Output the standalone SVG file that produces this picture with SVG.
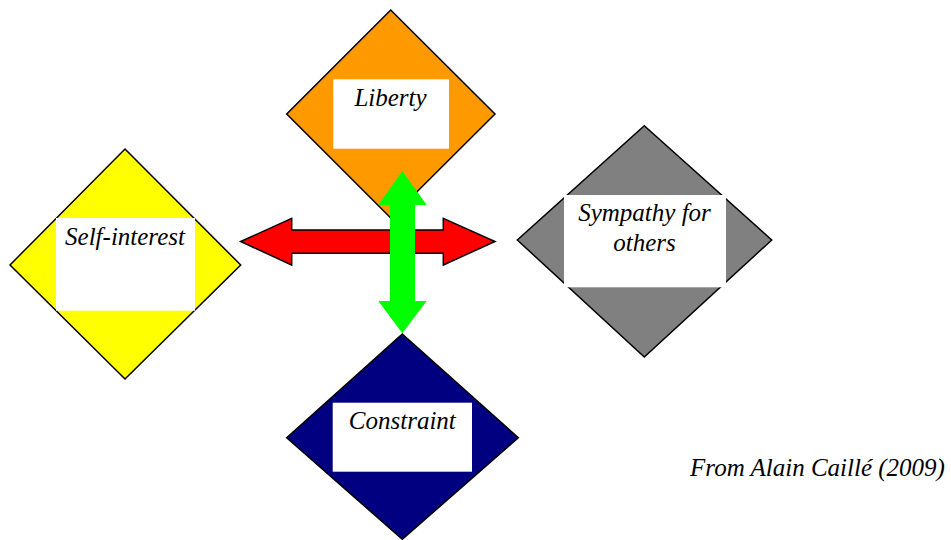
<svg xmlns="http://www.w3.org/2000/svg" width="951" height="540" viewBox="0 0 951 540">
<style>
.d{stroke:#000;stroke-width:1.5}
.box{fill:#fff}
.t{font-family:'Liberation Serif','DejaVu Serif',Times,serif;font-style:italic;font-size:25px;fill:#000;text-anchor:middle}
</style>
<rect width="951" height="540" fill="#fff"/>
<g id="liberty">
<polygon class="d" fill="#FF9900" points="390.7,10 495,114 390.7,218 286.7,114"/>
<rect class="box" x="333.3" y="79.3" width="115.7" height="69.4"/>
<text class="t" x="390.5" y="106">Liberty</text>
</g>
<g id="self-interest">
<polygon class="d" fill="#FFFF00" points="125,149 240.7,265 125,379 10,265"/>
<rect class="box" x="56" y="218" width="139" height="92.7"/>
<text class="t" x="125" y="245">Self-interest</text>
</g>
<g id="sympathy">
<polygon class="d" fill="#808080" points="644.3,125.7 771.7,240 644.3,357 517.3,240"/>
<rect class="box" x="564" y="195" width="162" height="92.3"/>
<text class="t" x="644.5" y="220.7">Sympathy for</text>
<text class="t" x="644.5" y="251">others</text>
</g>
<g id="constraint">
<polygon class="d" fill="#000080" points="402.3,334 518.3,437.7 402.3,539.3 286.7,437.7"/>
<rect class="box" x="332.7" y="402.7" width="139.3" height="69"/>
<text class="t" x="402.3" y="429.3">Constraint</text>
</g>
<g id="connectors">
<polygon fill="#FF0000" stroke="#000" stroke-width="1.5" points="240.7,241.5 291.7,218.3 291.7,230 443.3,230 443.3,218.3 495,241.5 443.3,265 443.3,253.3 291.7,253.3 291.7,265"/>
<polygon fill="#00FF00" points="402.3,171 426.7,205 415,205 415,301 426.7,301 402.3,333.3 378.3,301 390,301 390,205 378.3,205"/>
</g>
<text class="t" x="817.5" y="476">From Alain Caillé (2009)</text>
</svg>
